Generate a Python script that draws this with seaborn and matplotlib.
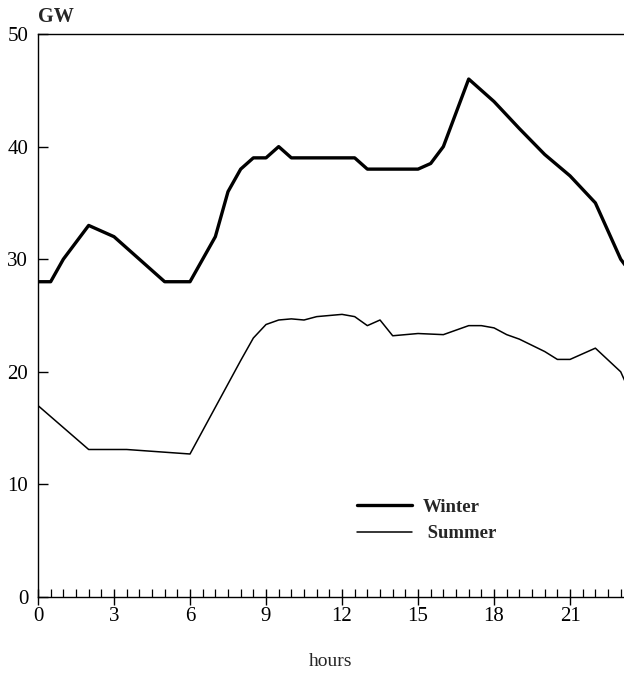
import matplotlib
matplotlib.use("Agg")
import matplotlib.pyplot as plt
import seaborn as sns
import pandas as pd
from matplotlib.ticker import MultipleLocator

# Data
winter_hours = [0, 0.5, 1, 2, 3, 4, 5, 6, 7, 7.5, 8, 8.5, 9, 9.5, 10, 11, 12, 12.5, 13, 14, 15,
                15.5, 16, 17, 18, 19, 20, 21, 22, 23, 24]
winter_gw = [28, 28, 30, 33, 32, 30, 28, 28, 32, 36, 38, 39, 39, 40, 39, 39, 39, 39, 38, 38, 38,
             38.5, 40, 46, 44, 41.6, 39.3, 37.4, 35, 30, 27]

summer_hours = [0, 2, 3, 3.5, 6, 8, 8.5, 9, 9.5, 10, 10.5, 11, 12, 12.5, 13, 13.5, 14, 15, 16,
                16.5, 17, 17.5, 18, 18.5, 19, 20, 20.5, 21, 22, 23, 23.5]
summer_gw = [17, 13.1, 13.1, 13.1, 12.7, 21, 23, 24.2, 24.6, 24.7, 24.6, 24.9, 25.1, 24.9, 24.1,
             24.6, 23.2, 23.4, 23.3, 23.7, 24.1, 24.1, 23.9, 23.3, 22.9, 21.8, 21.1, 21.1, 22.1,
             20.0, 17.5]

x_ticks = [0, 3, 6, 9, 12, 15, 18, 21]
y_ticks = [0, 10, 20, 30, 40, 50]

sns.set_style("ticks")
plt.rcParams['font.family'] = ['Liberation Serif', 'DejaVu Serif']

winter = pd.DataFrame({"hours": winter_hours, "GW": winter_gw})
summer = pd.DataFrame({"hours": summer_hours, "GW": summer_gw})

fig = plt.figure(figsize=(6.24, 6.73), dpi=100)
ax = fig.add_axes([38 / 624, 1 - 597 / 673, 1 - 38 / 624, (597 - 34) / 673])

sns.lineplot(data=winter, x="hours", y="GW", ax=ax, color="black", linewidth=2.4,
             label="Winter", sort=False)
sns.lineplot(data=summer, x="hours", y="GW", ax=ax, color="black", linewidth=1.1,
             label=" Summer", sort=False)

ax.set_xlim(0, 23.13)
ax.set_ylim(0, 50)
ax.set_xticks(x_ticks)
ax.set_xticklabels([str(t) for t in x_ticks])
ax.set_yticks(y_ticks)
ax.set_yticklabels([str(t) for t in y_ticks])
ax.xaxis.set_minor_locator(MultipleLocator(0.5))

for s in ["left", "bottom", "top"]:
    ax.spines[s].set_visible(True)
    ax.spines[s].set_color("black")
    ax.spines[s].set_linewidth(1.0)
ax.spines["right"].set_visible(False)

ax.tick_params(axis="x", which="major", direction="inout", length=11, width=1.0,
               labelsize=15, pad=2, colors="black")
ax.tick_params(axis="x", which="minor", direction="in", length=5.5, width=0.9,
               colors="black")
ax.tick_params(axis="y", which="major", direction="in", length=7, width=1.0,
               labelsize=15, pad=7, colors="black")
ax.tick_params(axis="x", which="both", top=False)
ax.tick_params(axis="y", which="both", right=False)

ax.set_xlabel("hours", fontsize=14, labelpad=19)
ax.set_ylabel("")
ax.text(0.0, 1.021, "GW", transform=ax.transAxes, ha="left", va="baseline",
        fontsize=14.5, fontweight="bold")

leg = ax.legend(loc="upper left", bbox_to_anchor=(0.516, 0.205), frameon=False,
                handlelength=2.9, handletextpad=0.6, labelspacing=0.5,
                prop={"size": 13.5, "weight": "bold"})

fig.savefig("out.png", dpi=100)
